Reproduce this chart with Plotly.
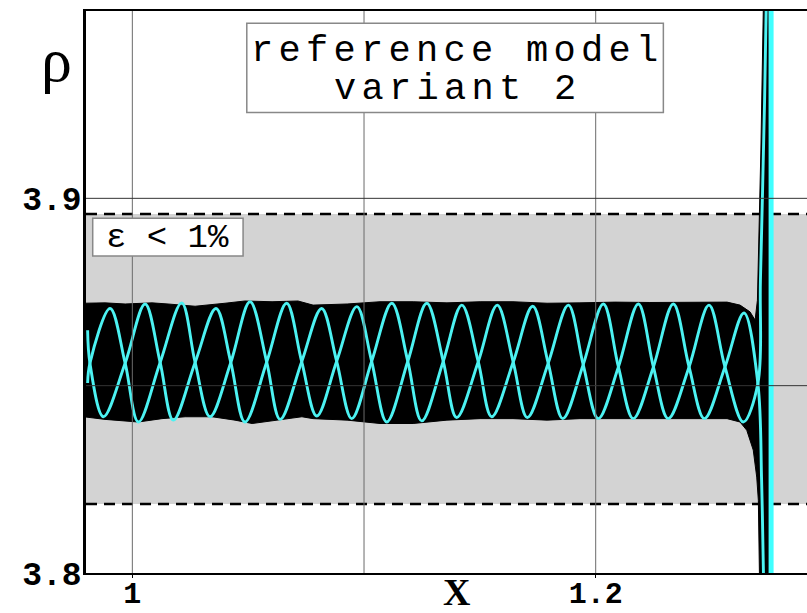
import plotly.graph_objects as go

# ---- axis setup -------------------------------------------------------
x_range = [0.98, 1.2912]
y_range = [3.8, 3.95]
x_tick_vals = [1.0, 1.2]
x_tick_text = ["1", "1.2"]
y_tick_vals = [3.8, 3.9]
y_tick_text = ["3.8", "3.9"]
grid_x = [1.0, 1.1, 1.2]
grid_y = [3.85, 3.9]

# ---- tolerance band (rho0 +/- 1 %) ------------------------------------
band_low = 3.8184
band_high = 3.8958

# ---- envelope of the fast-oscillating (black) solution ----------------
env_top_x = [0.979, 0.9882, 0.9969, 1.0085, 1.0154, 1.0271, 1.0400, 1.0486,
             1.0603, 1.0715, 1.0780, 1.0927, 1.1069, 1.1212, 1.1358, 1.1501,
             1.1643, 1.1790, 1.1932, 1.2083, 1.2234, 1.2385, 1.2493, 1.2567]
env_top_y = [3.8720, 3.8721, 3.8718, 3.8721, 3.8718, 3.8712, 3.8720, 3.8726,
             3.8724, 3.8726, 3.8715, 3.8718, 3.8724, 3.8724, 3.8721, 3.8724,
             3.8724, 3.8720, 3.8721, 3.8723, 3.8722, 3.8723, 3.8724, 3.8723]
env_bot_x = [0.979, 0.9882, 1.0025, 1.0128, 1.0228, 1.0344, 1.0443, 1.0517,
             1.0629, 1.0732, 1.0780, 1.0927, 1.1069, 1.1212, 1.1358, 1.1501,
             1.1643, 1.1790, 1.1932, 1.2083, 1.2234, 1.2385, 1.2493, 1.2567]
env_bot_y = [3.8417, 3.8410, 3.8403, 3.8412, 3.8417, 3.8417, 3.8408, 3.8399,
             3.8408, 3.8417, 3.8412, 3.8408, 3.8399, 3.8399, 3.8408, 3.8412,
             3.8412, 3.8408, 3.8412, 3.8412, 3.8413, 3.8412, 3.8412, 3.8412]
# blow-up near the right end (top edge -> spike -> lower tail)
blow_x = [1.2623, 1.2666, 1.2688, 1.2698, 1.2713, 1.2724, 1.2726, 1.2744,
          1.2748, 1.2752, 1.2754, 1.2752, 1.2750, 1.2709, 1.2702, 1.2695,
          1.2680, 1.2652, 1.2623]
blow_y = [3.8715, 3.8697, 3.8675, 3.8728, 3.9129, 3.9500, 3.9600, 3.9600,
          3.9129, 3.8728, 3.8499, 3.8194, 3.7900, 3.7900, 3.8194, 3.8256,
          3.8328, 3.8381, 3.8403]

# ---- reference-model pair of curves (cyan) ----------------------------
cross_x = [0.9817, 0.9969, 1.0120, 1.0271, 1.0425, 1.0580, 1.0731, 1.0882,
           1.1033, 1.1189, 1.1342, 1.1493, 1.1644, 1.1795, 1.1946, 1.2098,
           1.2249, 1.2403, 1.2558, 1.2700]
cross_y = [3.8560, 3.8560, 3.8562, 3.8562, 3.8562, 3.8563, 3.8564, 3.8565,
           3.8565, 3.8565, 3.8565, 3.8564, 3.8563, 3.8560, 3.8556, 3.8550,
           3.8550, 3.8550, 3.8550, 3.8506]
peak_x = [0.9904, 1.0055, 1.0213, 1.0361, 1.0508, 1.0666, 1.0817, 1.0969,
          1.1120, 1.1271, 1.1422, 1.1575, 1.1728, 1.1882, 1.2033, 1.2184,
          1.2335, 1.2489, 1.2640]
peak_y = [3.8706, 3.8718, 3.8721, 3.8706, 3.8724, 3.8720, 3.8706, 3.8711,
          3.8720, 3.8720, 3.8715, 3.8715, 3.8712, 3.8715, 3.8718, 3.8718,
          3.8718, 3.8715, 3.8694]
trough_x = [0.9875, 1.0026, 1.0177, 1.0335, 1.0486, 1.0638, 1.0796, 1.0947,
            1.1098, 1.1249, 1.1400, 1.1551, 1.1705, 1.1858, 1.2011, 1.2162,
            1.2313, 1.2469, 1.2637]
trough_y = [3.8417, 3.8403, 3.8408, 3.8417, 3.8403, 3.8410, 3.8419, 3.8412,
            3.8403, 3.8406, 3.8415, 3.8417, 3.8415, 3.8412, 3.8412, 3.8412,
            3.8412, 3.8412, 3.8403]
start_a = (0.9807, 3.8507)
start_b = (0.9807, 3.8648)
tail_a_x = [1.2716, 1.2724, 1.2729]
tail_a_y = [3.8248, 3.8000, 3.7900]
tail_b_x = [1.2711, 1.2729, 1.2737]
tail_b_y = [3.8782, 3.9263, 3.9550]
branch_x = [1.2757, 1.2757]
branch_y = [3.79, 3.96]

# ---- text ---------------------------------------------------------------
title_lines = ["reference model", "variant 2"]
band_label = "ε < 1%"
x_label = "X"
y_label = "ρ"

MONO = "Liberation Mono, Courier New, monospace"
SERIF = "Liberation Serif, Times New Roman, serif"
CYAN = "#4cf2f2"


def spaced(text, px):
    """Wrap text in a span with extra letter spacing (typewriter look)."""
    return '<span style="letter-spacing:%spx">%s</span>' % (px, text)


# assemble the two antiphase curves from crossings and extrema
ax, ay = [start_a[0]], [start_a[1]]
bx, by = [start_b[0]], [start_b[1]]
for k in range(len(peak_x)):
    ax.append(cross_x[k]); ay.append(cross_y[k])
    bx.append(cross_x[k]); by.append(cross_y[k])
    if k % 2 == 0:
        ax.append(peak_x[k]); ay.append(peak_y[k])
        bx.append(trough_x[k]); by.append(trough_y[k])
    else:
        ax.append(trough_x[k]); ay.append(trough_y[k])
        bx.append(peak_x[k]); by.append(peak_y[k])
ax.append(cross_x[-1]); ay.append(cross_y[-1])
bx.append(cross_x[-1]); by.append(cross_y[-1])
ax += tail_a_x; ay += tail_a_y
bx += tail_b_x; by += tail_b_y

fig = go.Figure()

# filled black region of the oscillating solution
poly_x = env_top_x + blow_x + env_bot_x[::-1]
poly_y = env_top_y + blow_y + env_bot_y[::-1]
fig.add_trace(go.Scatter(x=poly_x, y=poly_y, mode="lines", fill="toself",
                         fillcolor="black", line=dict(color="black", width=1),
                         hoverinfo="skip", showlegend=False))

for cx, cy in ((ax, ay), (bx, by)):
    fig.add_trace(go.Scatter(x=cx, y=cy, mode="lines",
                             line=dict(color=CYAN, width=2.9, shape="spline", smoothing=1.0),
                             hoverinfo="skip", showlegend=False))
fig.add_trace(go.Scatter(x=branch_x, y=branch_y, mode="lines",
                         line=dict(color="#40ffff", width=5),
                         hoverinfo="skip", showlegend=False))

shapes = [
    dict(type="rect", xref="paper", yref="y", x0=0, x1=1, y0=band_low, y1=band_high,
         fillcolor="#d3d3d3", line=dict(width=0), layer="below"),
]
for yv in (band_low, band_high):
    shapes.append(dict(type="line", xref="paper", yref="y", x0=0, x1=1, y0=yv, y1=yv,
                       line=dict(color="black", width=2.5, dash="11px,7px"), layer="below"))
for gx in grid_x:
    shapes.append(dict(type="line", xref="x", yref="paper", x0=gx, x1=gx, y0=0, y1=1,
                       line=dict(color="#6a6a6a", width=1), layer="above"))
for gy in grid_y:
    shapes.append(dict(type="line", xref="paper", yref="y", x0=0, x1=1, y0=gy, y1=gy,
                       line=dict(color="#333333", width=1), layer="above"))
# boxes behind the labels
shapes.append(dict(type="rect", xref="x", yref="y", x0=1.0494, x1=1.2292,
                   y0=3.9229, y1=3.9467, fillcolor="white",
                   line=dict(color="#888888", width=1.5), layer="above"))
shapes.append(dict(type="rect", xref="x", yref="y", x0=0.9829, x1=1.0478,
                   y0=3.8846, y1=3.8947, fillcolor="white",
                   line=dict(color="#888888", width=1.5), layer="above"))

annotations = [
    dict(text=spaced(title_lines[0], 5.3), x=1.1405, y=3.9394, xref="x", yref="y",
         showarrow=False, xanchor="center", yanchor="middle",
         font=dict(family=MONO, size=37, color="black")),
    dict(text=spaced(title_lines[1], 5.3), x=1.1405, y=3.9291, xref="x", yref="y",
         showarrow=False, xanchor="center", yanchor="middle",
         font=dict(family=MONO, size=37, color="black")),
    dict(text=band_label, x=1.0153, y=3.8895, xref="x", yref="y",
         showarrow=False, xanchor="center", yanchor="middle",
         font=dict(family=MONO, size=34, color="black")),
    dict(text="<b>" + x_label + "</b>", x=1.1401, y=-0.034, xref="x", yref="paper",
         showarrow=False, xanchor="center", yanchor="middle",
         font=dict(family=SERIF, size=38, color="black")),
    dict(text=y_label, x=-0.041, y=0.912, xref="paper", yref="paper",
         showarrow=False, xanchor="center", yanchor="middle",
         font=dict(family=SERIF, size=62, color="black")),
]

fig.update_layout(
    width=807, height=613,
    margin=dict(l=86, r=0, t=11, b=40, pad=0),
    paper_bgcolor="white", plot_bgcolor="white",
    shapes=shapes, annotations=annotations,
    showlegend=False,
    xaxis=dict(range=x_range, tickvals=x_tick_vals, ticktext=x_tick_text,
               automargin=False,
               showgrid=False, zeroline=False, showline=True, mirror=True,
               linecolor="black", linewidth=2, ticks="outside", ticklen=3,
               tickcolor="black", tickwidth=1, ticklabelstandoff=-11,
               tickfont=dict(family=MONO, size=30, color="black", weight="bold")),
    yaxis=dict(range=y_range, tickvals=y_tick_vals, ticktext=y_tick_text,
               automargin=False,
               showgrid=False, zeroline=False, showline=True, mirror=False,
               linecolor="black", linewidth=2.5, ticks="", ticklabelstandoff=-5,
               tickfont=dict(family=MONO, size=33, color="black", weight="bold")),
)

fig.write_html("out.html")
